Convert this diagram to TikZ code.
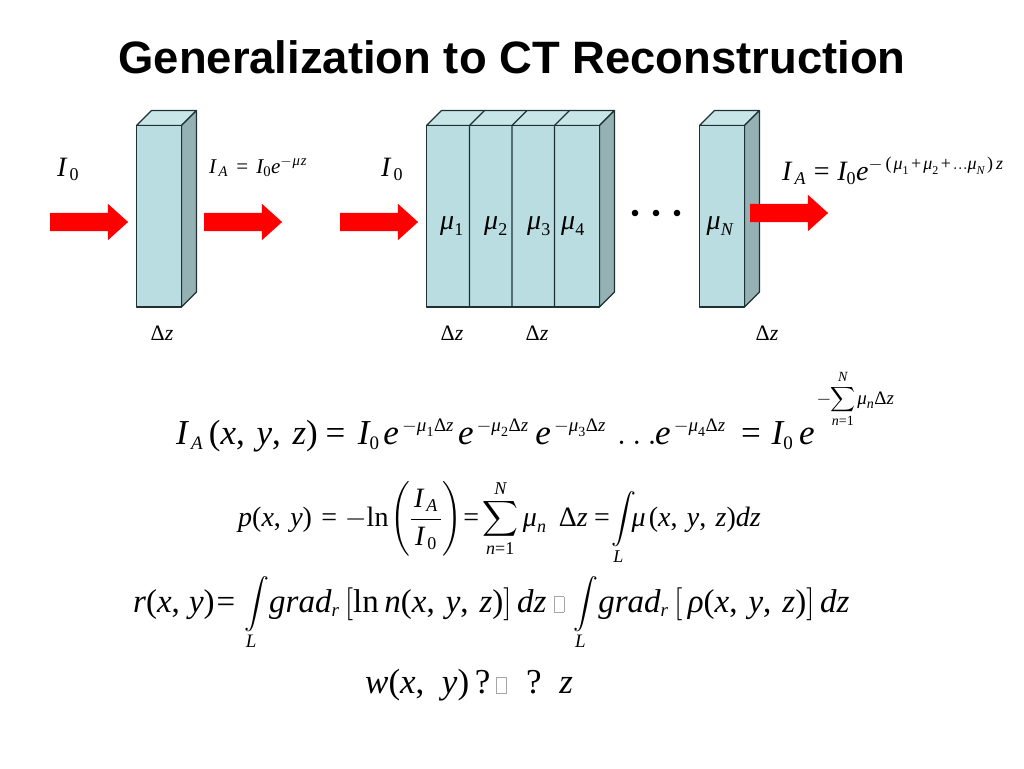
\documentclass[tikz,border=0pt]{standalone}
\usepackage{fix-cm}
\usepackage{amsmath}
\usepackage[no-math]{fontspec}
\setmainfont{Liberation Serif}
\setsansfont{Liberation Sans}
\newfontfamily\libf{Liberation Serif}[NFSSFamily=libf]
\usetikzlibrary{shapes.arrows}

% Times-like letters in formulas
\DeclareSymbolFont{libit}{TU}{libf}{m}{it}
\DeclareSymbolFont{libup}{TU}{libf}{m}{n}
\newcommand{\libletter}[1]{\DeclareMathSymbol{#1}{\mathalpha}{libit}{`#1}}
\newcommand{\libupper}[2]{\DeclareMathSymbol{#1}{#2}{libup}{`#1}}
\libletter{I}\libletter{A}\libletter{N}\libletter{L}\libletter{e}\libletter{z}
\libletter{x}\libletter{y}\libletter{p}\libletter{r}\libletter{w}\libletter{n}
\libletter{g}\libletter{a}\libletter{d}
\libupper{0}{\mathalpha}\libupper{1}{\mathalpha}\libupper{2}{\mathalpha}
\libupper{3}{\mathalpha}\libupper{4}{\mathalpha}
\libupper{(}{\mathopen}\libupper{)}{\mathclose}
\libupper{=}{\mathrel}\libupper{+}{\mathbin}\libupper{,}{\mathpunct}

% Script sizes of the formulas
\DeclareMathSizes{35}{35}{19}{14}
\DeclareMathSizes{33}{33}{19}{14}
\DeclareMathSizes{28}{28}{18}{12}
\DeclareMathSizes{19}{19}{14}{10}

\newcommand{\muu}{\text{\itshape μ}}
\newcommand{\rhoo}{\text{\itshape ρ}}
\newcommand{\dz}{\text{Δ}z}
\newcommand{\lnn}{\text{ln}}
\newcommand{\tofu}{\textcolor{black!35}{\fboxsep=0pt\fboxrule=0.7pt\fbox{\rule{0pt}{15pt}\hspace{9pt}}}}

\definecolor{slabfront}{HTML}{B9DDE1}
\definecolor{slabtop}{HTML}{C8E5E8}
\definecolor{slabside}{HTML}{95B1B4}
\definecolor{slabline}{HTML}{1E3234}

\tikzset{
  slabedge/.style={draw=slabline, line width=1.1pt, line join=round},
  beam/.style={single arrow, fill=red, inner xsep=0pt, inner ysep=9pt, minimum height=78pt,
    text height=0pt, text depth=0pt, single arrow head extend=9pt, single arrow tip angle=84, single arrow head indent=0pt},
  formula/.style={inner sep=0pt, anchor=base west},
  label/.style={inner sep=0pt, anchor=base},
}

\begin{document}
\begin{tikzpicture}[x=1pt,y=-1pt]

      % Definitions
      \def\dd{15}     % Depth of the slabs
      \def\ytop{125.5}  % Top of front faces
      \def\ybot{307}    % Bottom of front faces

      \useasboundingbox (0,0) rectangle (1024,768);

      % Title
      \node [label] (title) at (512,73) {\fontsize{45.4}{50}\selectfont\sffamily\bfseries Generalization to CT Reconstruction};

      % Slabs: left edge / right edge
      \foreach \xl/\xr in {136.5/181.5, 426.5/599.5, 699.5/744.5} {
        \draw [slabedge, fill=slabtop] (\xl,\ytop) -- ++ (\dd,-\dd) -- (\xr+\dd,\ytop-\dd) -- (\xr,\ytop) -- cycle;
        \draw [slabedge, fill=slabside] (\xr,\ytop) -- ++ (\dd,-\dd) -- (\xr+\dd,\ybot-\dd) -- (\xr,\ybot) -- cycle;
        \draw [slabedge, fill=slabfront] (\xl,\ytop) rectangle (\xr,\ybot);
      }

      % Dividers of the wide slab
      \foreach \xd in {469.5, 512, 554.5} {
        \draw [slabedge] (\xd,\ybot) -- (\xd,\ytop) -- ++ (\dd,-\dd);
      }

      % Beams
      \node [beam] (beamA) at (84,222) {};
      \node [beam] (beamB) at (238,222) {};
      \node [beam] (beamC) at (374,222) {};
      \node [beam] (beamD) at (784,213) {};

      % Dots
      \foreach \xd in {635, 656, 677} {
        \fill [black] (\xd,213) circle [radius=3.3];
      }

      % Labels on the slabs
      \node [formula] (inA) at (57,176) {\fontsize{28}{30}\selectfont $I_{\,0}$};
      \node [formula] (inB) at (381,176) {\fontsize{28}{30}\selectfont $I_{\,0}$};
      \node [formula] (outA) at (209,173) {\fontsize{21}{24}\selectfont $I_{\,A}\mskip2mu=\mskip2mu I_{0}e^{-\mskip1mu\muu\mskip1mu z}$};
      \node [formula] (outB) at (782,180) {\fontsize{28}{30}\selectfont $I_{\,A}=I_{0}e^{-\mskip3mu(\mskip2mu\muu_{1}\mskip2mu+\mskip2mu\muu_{2}\mskip2mu+\mskip2mu\ldots\muu_{N}\mskip2mu)\mskip3mu z}$};

      \node [label] (muA) at (452,229) {\fontsize{28}{30}\selectfont $\muu_{1}$};
      \node [label] (muB) at (496,229) {\fontsize{28}{30}\selectfont $\muu_{2}$};
      \node [label] (muC) at (539,229) {\fontsize{28}{30}\selectfont $\muu_{3}$};
      \node [label] (muD) at (573,229) {\fontsize{28}{30}\selectfont $\muu_{4}$};
      \node [label] (muN) at (720,229) {\fontsize{28}{30}\selectfont $\muu_{N}$};

      \node [label] (dzA) at (162,340) {\fontsize{22}{26}\selectfont $\dz$};
      \node [label] (dzB) at (452,340) {\fontsize{22}{26}\selectfont $\dz$};
      \node [label] (dzC) at (537,340) {\fontsize{22}{26}\selectfont $\dz$};
      \node [label] (dzD) at (767,340) {\fontsize{22}{26}\selectfont $\dz$};

      % Equations
      \node [formula] (eqA) at (176,444) {\fontsize{35}{38}\selectfont $I_{\,A}\mskip3mu(x,\,y,\,z)\mskip-1mu=\mskip1.5mu I_{0}\mskip2mu e^{\,-\muu_{1}\dz}\mskip2mu e^{\,-\muu_{2}\dz}\mskip3.5mu e^{\,-\muu_{3}\dz}\mskip2.5mu\ldots\mskip-4mu e^{\,-\muu_{4}\dz}\mskip3mu=\mskip0.5mu I_{0}\mskip3mu e\mskip1mu\raisebox{40pt}{\fontsize{19}{22}\selectfont $-\mskip-4mu\displaystyle\sum_{n=1}^{N}\mskip-1mu\muu_{n}\dz$}$};
      \node [formula] (eqB) at (238,526) {\fontsize{28}{32}\selectfont $p(x,\,y)\mskip1mu=\mskip0mu-\lnn\mskip-2mu\left(\rule[-26pt]{0pt}{64pt}\dfrac{\mskip2mu I_{\,A}\mskip2mu}{\mskip2mu I_{\,0}\mskip2mu}\right)\mskip-4mu=\mskip-3mu\displaystyle\sum_{n=1}^{N}\muu_{n}\mskip8mu\dz\mskip-1mu=\mskip-4mu\int\limits_{L}\mskip-6mu\muu\mskip2mu(x,\,y,\,z)dz$};
      \node [formula] (eqC) at (133,612) {\fontsize{33}{36}\selectfont $r(x,\mskip2mu y)\mskip-4mu=\mskip0mu\displaystyle\int\limits_{L}\mskip-3mu grad_{r}\left[\lnn\, n(x,\mskip3mu y,\mskip3mu z)\right]dz\mskip-1mu\;\tofu\mskip-3mu\;\int\limits_{L}\mskip-3mu grad_{r}\left[\,\rhoo(x,\mskip3mu y,\mskip3mu z)\right]dz$};
      \node [formula] (eqD) at (365,693) {\fontsize{35}{38}\selectfont $w(x,\mskip6mu y)\mskip3mu\text{?}\mskip3mu\tofu\mskip10mu\text{?}\mskip9mu z$};

   \end{tikzpicture}
\end{document}
